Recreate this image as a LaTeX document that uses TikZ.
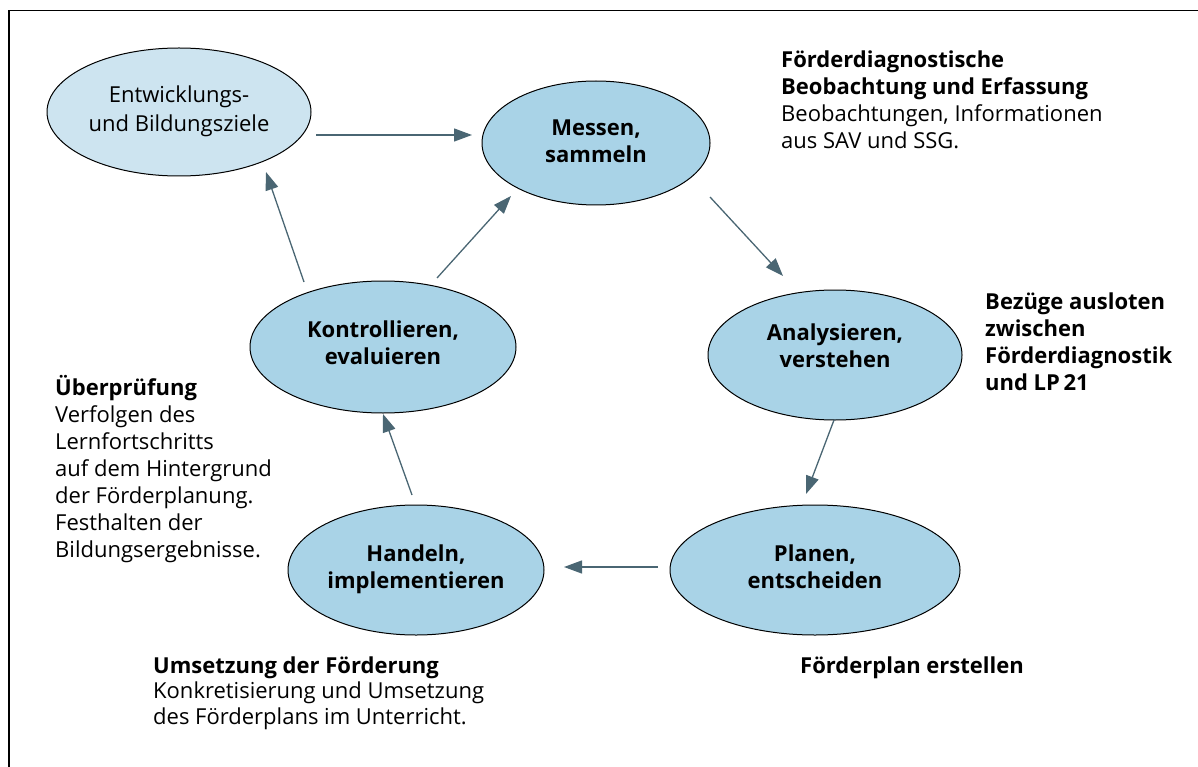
\documentclass[tikz,border=0pt]{standalone}
\usepackage{fontspec}
\setmainfont{Open Sans}
\usetikzlibrary{shapes.geometric,arrows.meta,calc}
\definecolor{ellfill}{HTML}{A9D3E7}
\definecolor{ellfilllight}{HTML}{CDE4F0}
\definecolor{arrcol}{HTML}{4A6673}
\newcommand{\lines}[1]{\begin{tabular}[t]{@{}l@{}}#1\end{tabular}}
\newcommand{\ctext}[2]{\raisebox{#1}{\smash{\begin{tabular}{@{}c@{}}#2\end{tabular}}}}
\tikzset{
  cyc/.style={ellipse, draw=black, line width=1pt, fill=ellfill, inner sep=0pt,
    font=\fontsize{22}{27}\selectfont\bfseries},
  goal/.style={cyc, fill=ellfilllight, font=\fontsize{22}{29}\selectfont},
  arr/.style={draw=arrcol, line width=1.3pt, -{Triangle[length=18pt,width=13pt]}},
  note/.style={anchor=base west, inner sep=0pt, font=\fontsize{22}{27}\selectfont},
  frame/.style={line width=1.5pt}
}
\begin{document}
\begin{tikzpicture}[x=1pt,y=-1pt]
\useasboundingbox (0,0) rectangle (1198,767);
\draw[frame] (9,767) -- (9,10.5) -- (1198,10.5);

\node[goal, minimum width=264pt, minimum height=128pt] (ew) at (179,112) {\ctext{-9.5pt}{Entwicklungs-\\und Bildungsziele}};
\node[cyc, minimum width=228pt, minimum height=124pt] (ms) at (596,143) {\ctext{-11.5pt}{Messen,\\sammeln}};
\node[cyc, minimum width=254pt, minimum height=130pt] (an) at (835,355) {\ctext{1.5pt}{Analysieren,\\verstehen}};
\node[cyc, minimum width=290pt, minimum height=130pt] (pl) at (815,570) {\ctext{-9.5pt}{Planen,\\entscheiden}};
\node[cyc, minimum width=256pt, minimum height=130pt] (hd) at (416,570) {\ctext{-10.5pt}{Handeln,\\implementieren}};
\node[cyc, minimum width=266pt, minimum height=132pt] (kt) at (383,347) {\ctext{-7.5pt}{Kontrollieren,\\evaluieren}};

\draw[arr] ($(ew)+(137,23)$) -- ($(ms)+(-124,-8)$);
\draw[arr] ($(ms)+(114,54)$) -- ($(an)+(-52,-79)$);
\draw[arr] ($(an)+(-1,65)$) -- ($(pl)+(-9,-76)$);
\draw[arr] ($(pl)+(-157,-3)$) -- ($(hd)+(148,-3)$);
\draw[arr] ($(hd)+(-4,-75)$) -- ($(kt)+(0,67)$);
\draw[arr] ($(kt)+(54,-69)$) -- ($(ms)+(-85,53)$);
\draw[arr] ($(kt)+(-79,-65)$) -- ($(ew)+(87,60)$);

\node[note] (t1) at (781,68) {\lines{\textbf{Förderdiagnostische}\\\textbf{Beobachtung und Erfassung}\\Beobachtungen, Informationen\\aus SAV und SSG.}};
\node[note] (t2) at (985,309) {\lines{\textbf{Bezüge ausloten}\\\textbf{zwischen}\\\textbf{Förderdiagnostik}\\\textbf{und LP\,21}}};
\node[note] (t3) at (55,395) {\lines{\textbf{Überprüfung}\\Verfolgen des\\Lernfortschritts\\auf dem Hintergrund\\der Förderplanung.\\Festhalten der\\Bildungsergebnisse.}};
\node[note, font=\fontsize{22}{25.5}\selectfont] (t4) at (153,673) {\lines{\textbf{Umsetzung der Förderung}\\Konkretisierung und Umsetzung\\des Förderplans im Unterricht.}};
\node[note] (t5) at (800,673) {\textbf{Förderplan erstellen}};
\end{tikzpicture}
\end{document}
